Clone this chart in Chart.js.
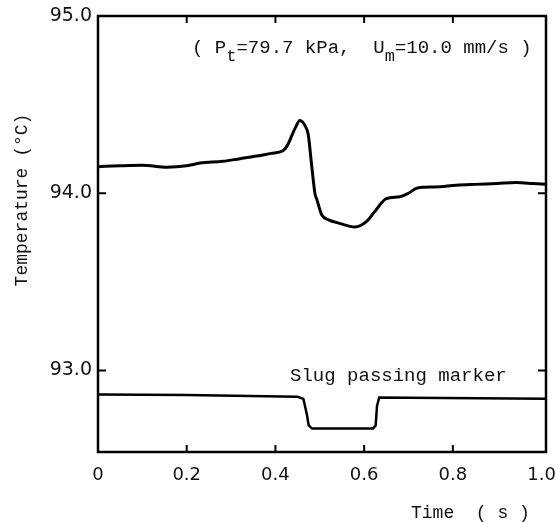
<!DOCTYPE html>
<html>
<head>
<meta charset="utf-8">
<script src="https://cdn.jsdelivr.net/npm/chart.js@4"></script>
<style>
  html, body { margin: 0; padding: 0; background: #fff; }
  #wrap { width: 556px; height: 522px; }
</style>
</head>
<body>
<div id="wrap"><canvas id="tempChart" width="556" height="522"></canvas></div>
<script>
// temperature trace
const timeT = [0, 0.05, 0.1, 0.156, 0.2, 0.23, 0.282, 0.32, 0.358, 0.39, 0.417, 0.427, 0.445, 0.455, 0.469, 0.474, 0.482, 0.489, 0.494, 0.504, 0.52, 0.545, 0.579, 0.605, 0.625, 0.65, 0.68, 0.7, 0.72, 0.76, 0.808, 0.85, 0.9, 0.943, 0.98, 1.01];
const temp  = [94.15, 94.155, 94.158, 94.147, 94.155, 94.17, 94.18, 94.195, 94.21, 94.225, 94.24, 94.27, 94.37, 94.41, 94.37, 94.33, 94.15, 94.0, 93.96, 93.88, 93.85, 93.83, 93.81, 93.84, 93.9, 93.97, 93.98, 94.0, 94.03, 94.035, 94.045, 94.05, 94.055, 94.06, 94.055, 94.05];

// slug passing marker trace
const markerT = [0, 0.2, 0.45, 0.463, 0.471, 0.475, 0.483, 0.62, 0.626, 0.629, 0.634, 0.7, 1.01];
const markerV = [92.865, 92.862, 92.852, 92.84, 92.75, 92.69, 92.672, 92.672, 92.69, 92.8, 92.848, 92.846, 92.84];

const xTicks = [0, 0.2, 0.4, 0.6, 0.8, 1.0];
const xTickLabels = ['0', '0.2', '0.4', '0.6', '0.8', '1.0'];
const yTicks = [93, 94, 95];
const yTickLabels = ['93.0', '94.0', '95.0'];

const mono = '"Liberation Mono", "DejaVu Sans Mono", monospace';

const framePlugin = {
    id: 'frame',
    afterDraw(chart) {
        const ctx = chart.ctx;
        const a = chart.chartArea;
        const xs = chart.scales.x, ys = chart.scales.y;
        ctx.save();
        ctx.strokeStyle = '#000';
        ctx.lineWidth = 2.5;
        ctx.strokeRect(a.left, a.top, a.right - a.left, a.bottom - a.top);

        // inward ticks on all four sides
        ctx.lineWidth = 2;
        ctx.beginPath();
        xTicks.slice(1, -1).forEach(v => {
            const px = xs.getPixelForValue(v);
            ctx.moveTo(px, a.bottom); ctx.lineTo(px, a.bottom - 7);
            ctx.moveTo(px, a.top); ctx.lineTo(px, a.top + 7);
        });
        yTicks.slice(0, -1).forEach(v => {
            const py = ys.getPixelForValue(v);
            ctx.moveTo(a.left, py); ctx.lineTo(a.left + 8, py);
            ctx.moveTo(a.right, py); ctx.lineTo(a.right - 8, py);
        });
        ctx.stroke();

        ctx.fillStyle = '#111';
        ctx.textBaseline = 'alphabetic';
        ctx.textAlign = 'left';

        // conditions annotation
        let x = xs.getPixelForValue(0.212);
        const by = ys.getPixelForValue(94.79);
        const big = '19px ' + mono, small = '17px ' + mono;
        const parts = [
            ['( P', big, 0], ['t', small, 8], ['=79.7 kPa,  U', big, 0], ['m', small, 8], ['=10.0 mm/s )', big, 0]
        ];
        parts.forEach(p => {
            ctx.font = p[1];
            ctx.fillText(p[0], x, by + p[2]);
            x += ctx.measureText(p[0]).width;
        });

        // marker label
        ctx.font = '19px ' + mono;
        ctx.fillText('Slug passing marker', xs.getPixelForValue(0.433), ys.getPixelForValue(92.94));

        // axis titles
        ctx.font = '18px ' + mono;
        ctx.fillText('Time  ( s )', 411, 518);

        ctx.translate(22, 200);
        ctx.rotate(-Math.PI / 2);
        ctx.textAlign = 'center';
        ctx.textBaseline = 'middle';
        ctx.font = '18px ' + mono;
        ctx.fillText('Temperature (\u00B0C)', 0, 0);
        ctx.restore();
    }
};

const ctx = document.getElementById('tempChart').getContext('2d');
new Chart(ctx, {
    type: 'line',
    data: {
        datasets: [{
            label: 'Temperature',
            data: timeT.map((t, i) => ({ x: t, y: temp[i] })),
            borderColor: '#000',
            borderWidth: 3,
            pointRadius: 0,
            cubicInterpolationMode: 'monotone'
        }, {
            label: 'Slug passing marker',
            data: markerT.map((t, i) => ({ x: t, y: markerV[i] })),
            borderColor: '#000',
            borderWidth: 2.5,
            pointRadius: 0,
            tension: 0
        }]
    },
    options: {
        responsive: false,
        animation: false,
        layout: { padding: { top: 16, right: 10, left: 0, bottom: 0 } },
        plugins: {
            legend: { display: false },
            tooltip: { enabled: false }
        },
        scales: {
            x: {
                type: 'linear',
                min: 0,
                max: 1.01,
                grid: { display: false, drawTicks: false },
                border: { display: false },
                afterBuildTicks: s => { s.ticks = xTicks.map(v => ({ value: v })); },
                afterFit: s => { s.height = 70; s.paddingLeft = 0; s.paddingRight = 0; },
                ticks: {
                    padding: 13,
                    color: '#111',
                    font: { family: '"DejaVu Sans", sans-serif', size: 18 },
                    callback: (v, i) => xTickLabels[i]
                }
            },
            y: {
                min: 92.54,
                max: 95.0,
                grid: { display: false, drawTicks: false },
                border: { display: false },
                afterBuildTicks: s => { s.ticks = yTicks.map(v => ({ value: v })); },
                afterFit: s => { s.width = 98; s.paddingTop = 0; s.paddingBottom = 0; },
                ticks: {
                    padding: 6,
                    color: '#111',
                    font: { family: '"DejaVu Sans", sans-serif', size: 19 },
                    callback: (v, i) => yTickLabels[i]
                }
            }
        }
    },
    plugins: [framePlugin]
});
</script>
</body>
</html>
